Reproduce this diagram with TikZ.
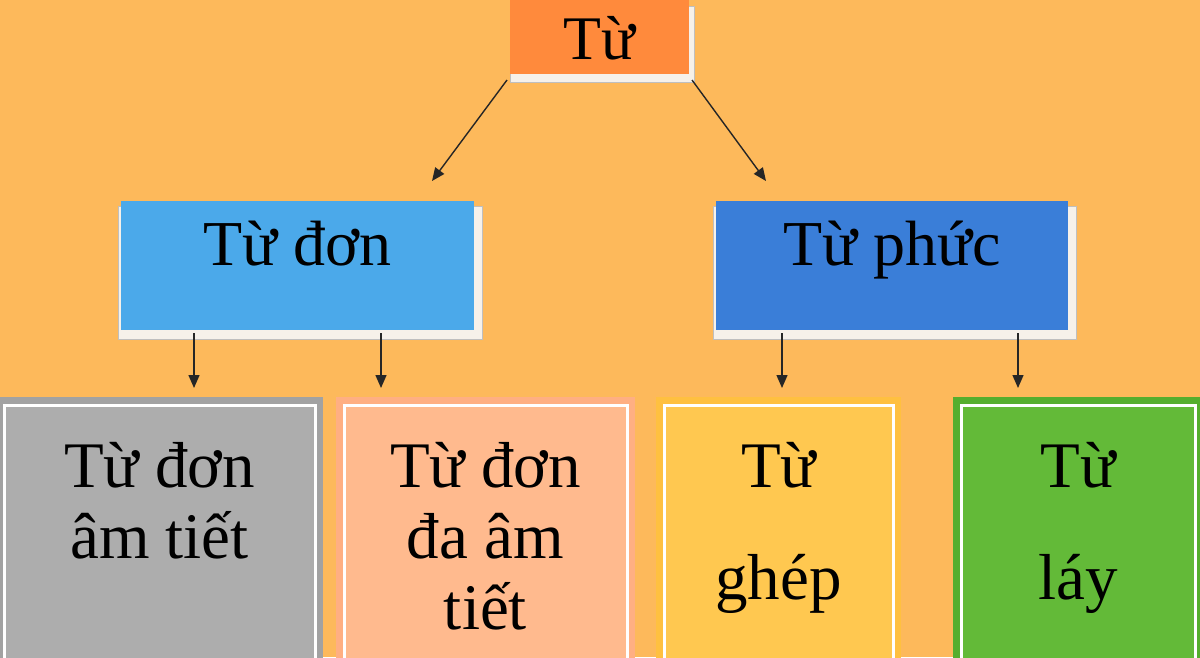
\documentclass[tikz,border=0pt]{standalone}
\usepackage{fontspec}
\setmainfont{Liberation Serif}
\usetikzlibrary{arrows.meta,shadows}

\definecolor{bgorange}{HTML}{FDB95B}
\definecolor{toporange}{HTML}{FF8A3C}
\definecolor{strip}{HTML}{F6F1EA}
\definecolor{skyblue}{HTML}{4BA9EA}
\definecolor{royalblue}{HTML}{3A7ED8}
\definecolor{grayband}{HTML}{A2A2A2}
\definecolor{grayfill}{HTML}{ADADAD}
\definecolor{salmonband}{HTML}{FFAF82}
\definecolor{salmonfill}{HTML}{FFBA8E}
\definecolor{yellowband}{HTML}{FFC040}
\definecolor{yellowfill}{HTML}{FFC850}
\definecolor{greenband}{HTML}{55AE2E}
\definecolor{greenfill}{HTML}{63BA38}

\begin{document}
\begin{tikzpicture}[x=1pt, y=-1pt,
	box/.style={rectangle, inner sep=0pt, outer sep=0pt, align=center},
	bevel/.style={general shadow={fill=strip, draw=black!25, line width=0.8pt, shadow xshift=3pt, shadow yshift=-7pt, shadow scale=1.03}},
	head/.style={box, bevel, font=\fontsize{62pt}{70pt}\selectfont, text height=44pt, text depth=0pt},
	branch/.style={box, bevel, font=\fontsize{64pt}{70pt}\selectfont, text height=44pt, text depth=44pt, minimum height=129pt},
	leaf/.style={box, anchor=north, draw=white, line width=3pt, font=\fontsize{65pt}{71pt}\selectfont, text height=#1, text depth=220pt, inner ysep=32pt},
	band/.style={preaction={draw=#1, line width=16pt}},
	arrow/.style={draw=black!85, line width=1.4pt, -{Triangle[length=13pt, width=11pt]}}]
	\useasboundingbox (0, 0) rectangle (1200, 657);
	\fill[bgorange] (0, 0) rectangle (1200, 657);
	
	\node[head, fill=toporange, minimum width=179pt, minimum height=74pt] (tu) at (599.5, 37) {Từ};
	
	\node[branch, fill=skyblue, minimum width=353pt] (tu-don) at (297.5, 265.5) {Từ đơn};
	\node[branch, fill=royalblue, minimum width=352pt] (tu-phuc) at (892, 265.5) {Từ phức};
	
	\draw[arrow] ([xshift=-3pt, yshift=-6pt]tu.south west) -- ([xshift=134.5pt, yshift=20pt]tu-don.north);
	\draw[arrow] ([xshift=3pt, yshift=-6pt]tu.south east) -- ([xshift=-126pt, yshift=20pt]tu-phuc.north);
	
	% text height = first line + the lines below it
	\node[leaf=121pt, band=grayband, fill=grayfill, minimum width=311pt] (don-am) at (159.5, 405) {Từ đơn\\âm tiết};
	\node[leaf=192pt, band=salmonband, fill=salmonfill, minimum width=283pt] (da-am) at (485.5, 405) {Từ đơn\\đa âm\\tiết};
	\node[leaf=162pt, band=yellowband, fill=yellowfill, minimum width=229pt] (tu-ghep) at (778.5, 405) {Từ\\[41pt]ghép};
	\node[leaf=162pt, band=greenband, fill=greenfill, minimum width=234pt] (tu-lay) at (1078, 405) {Từ\\[41pt]láy};
	
	\draw[arrow] ([xshift=-103.5pt, yshift=-3pt]tu-don.south) -- ([xshift=34.5pt, yshift=17pt]don-am.north);
	\draw[arrow] ([xshift=83.5pt, yshift=-3pt]tu-don.south) -- ([xshift=-104.5pt, yshift=17pt]da-am.north);
	\draw[arrow] ([xshift=-110pt, yshift=-3pt]tu-phuc.south) -- ([xshift=3.5pt, yshift=17pt]tu-ghep.north);
	\draw[arrow] ([xshift=126pt, yshift=-3pt]tu-phuc.south) -- ([xshift=-60pt, yshift=17pt]tu-lay.north);
\end{tikzpicture}
\end{document}
